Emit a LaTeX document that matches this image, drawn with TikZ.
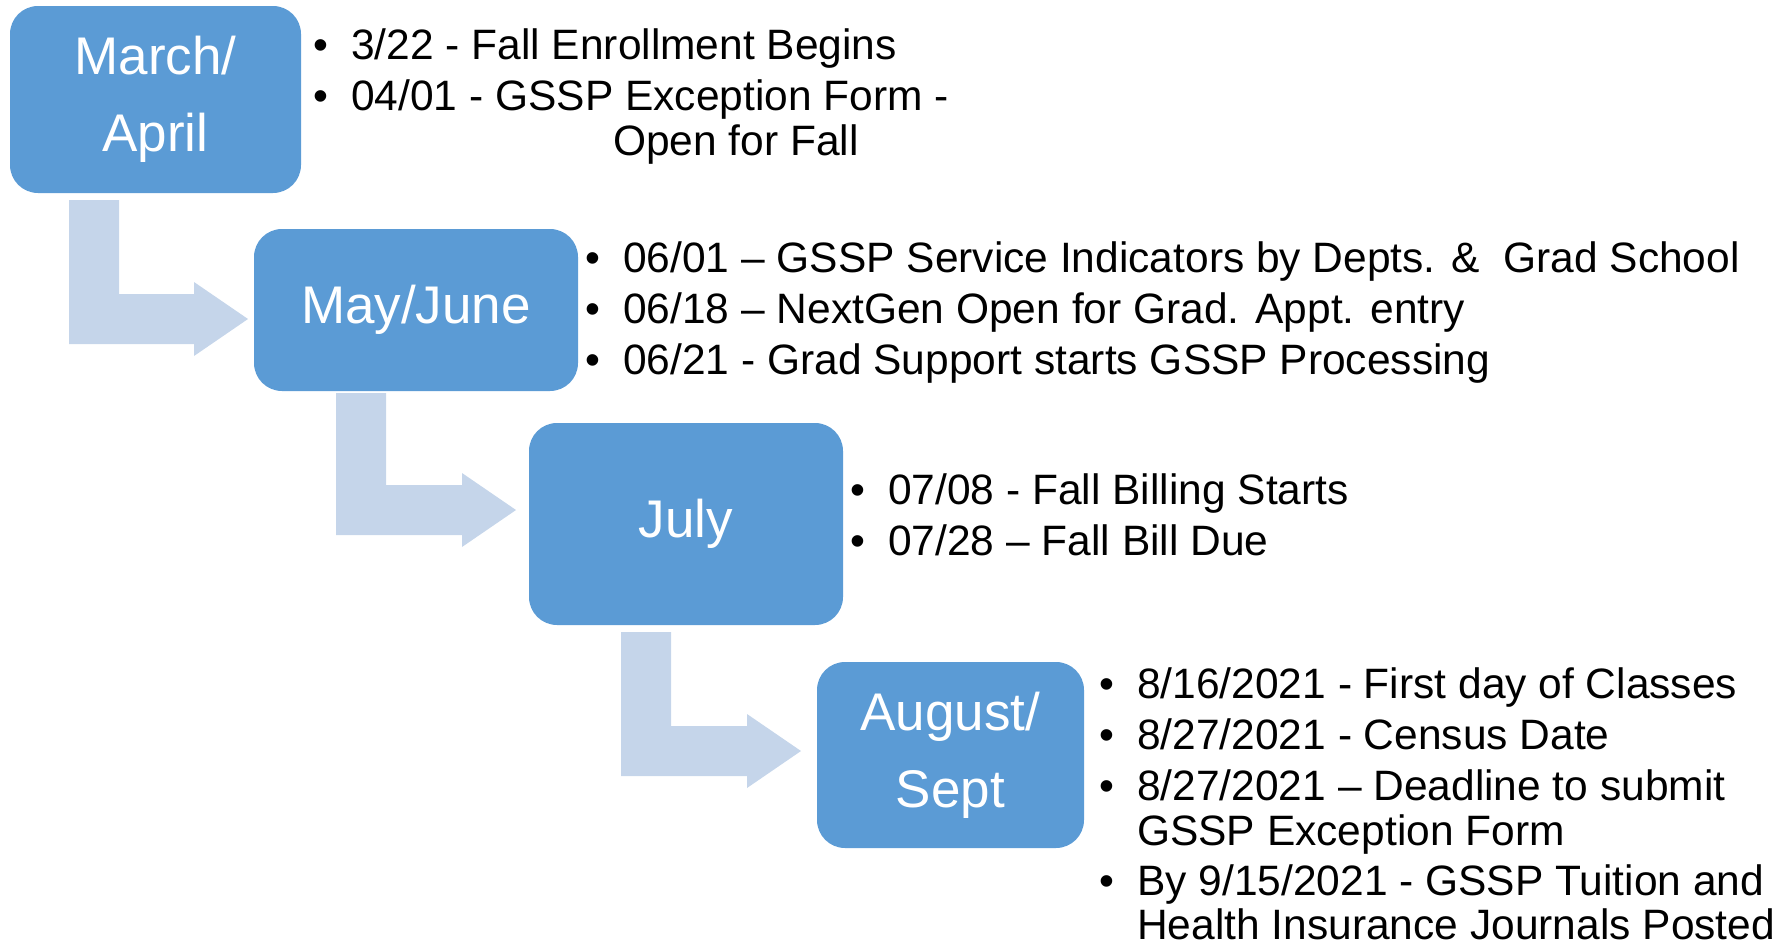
\documentclass[tikz,border=0pt]{standalone}
\usepackage{fontspec}
\setmainfont{Liberation Sans}
\definecolor{boxblue}{HTML}{5B9BD5}
\definecolor{arrowblue}{HTML}{C5D5EA}
\tikzset{
  month/.style={fill=boxblue, rounded corners=28pt, inner sep=0pt, text=white,
    align=center, font=\fontsize{53}{77}\selectfont},
  item/.style={anchor=base west, inner sep=0pt, text=black,
    font=\fontsize{42.5}{45}\selectfont},
  bendarrow/.style={fill=arrowblue}
}
\newcommand\bul{\llap{\textbullet\hspace{23pt}}}
% sx, top, centre y of bar, head base x, tip x
\newcommand\bentarrow[5]{%
  \fill[bendarrow] ({#1},{#2}) -- ({#1+50},{#2}) -- ({#1+50},{#3-25}) -- ({#4},{#3-25})
    -- ({#4},{#3-37}) -- ({#5},{#3}) -- ({#4},{#3+37}) -- ({#4},{#3+25})
    -- ({#1},{#3+25}) -- cycle;}
\begin{document}
\begin{tikzpicture}[x=1pt,y=-1pt]
\useasboundingbox (0,0) rectangle (1789,945);

% bent arrows
\bentarrow{69}{200}{319}{194}{248}
\bentarrow{336}{393}{510}{462}{516}
\bentarrow{621}{632}{751}{747}{801}

% month boxes
\node[month, minimum width=291pt, minimum height=187pt] (m1) at (155.5,99.5) {March/\\April};
\node[month, minimum width=324pt, minimum height=162pt] (m2) at (416,310) {May/June};
\node[month, minimum width=314pt, minimum height=202pt] (m3) at (686,524) {July};
\node[month, minimum width=267pt, minimum height=186pt] (m4) at (950.5,755) {August/\\Sept};

% items for March/April
\node[item] (a1) at (351,59) {\bul 3/22 - Fall Enrollment Begins};
\node[item] (a2) at (351,110) {\bul 04/01 - GSSP Exception Form -};
\node[item] (a3) at (613,155) {Open for Fall};

% items for May/June
\node[item] (b1) at (623,272) {\bul 06/01 – GSSP Service Indicators by Depts. \&\ \ Grad School};
\node[item] (b2) at (623,323) {\bul 06/18 – NextGen Open for Grad. Appt. entry};
\node[item] (b3) at (623,374) {\bul 06/21 - Grad Support starts GSSP Processing};

% items for July
\node[item] (c1) at (888,504) {\bul 07/08 - Fall Billing Starts};
\node[item] (c2) at (888,555) {\bul 07/28 – Fall Bill Due};

% items for August/Sept
\node[item] (d1) at (1137,698) {\bul 8/16/2021 - First day of Classes};
\node[item] (d2) at (1137,749) {\bul 8/27/2021 - Census Date};
\node[item] (d3) at (1137,800) {\bul 8/27/2021 – Deadline to submit};
\node[item] (d4) at (1137,845) {GSSP Exception Form};
\node[item] (d5) at (1137,895) {\bul By 9/15/2021 - GSSP Tuition and};
\node[item] (d6) at (1137,939) {Health Insurance Journals Posted};
\end{tikzpicture}
\end{document}
